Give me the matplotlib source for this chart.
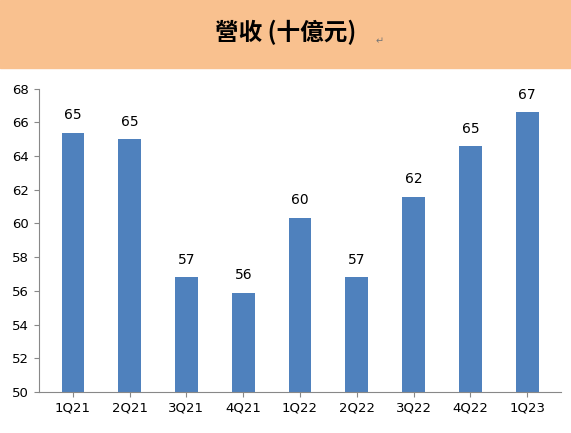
import matplotlib
matplotlib.use('Agg')
import matplotlib.pyplot as plt
from matplotlib.patches import Rectangle

plt.rcParams['font.family'] = ['Noto Sans CJK TC', 'DejaVu Sans']

quarters = ['1Q21', '2Q21', '3Q21', '4Q21', '1Q22', '2Q22', '3Q22', '4Q22', '1Q23']
revenue = [65.4, 65.0, 56.8, 55.9, 60.35, 56.8, 61.6, 64.6, 66.6]
title = '營收 (十億元)'

fig = plt.figure(figsize=(5.71, 4.33), dpi=100)
fig.patches.append(Rectangle((0, 0.843), 1, 0.157, transform=fig.transFigure,
                             color='#F9C18F', zorder=0))
fig.text(0.5, 0.925, title, ha='center', va='center', fontsize=17, fontweight='bold')
fig.text(0.658, 0.905, '↵', ha='left', va='center', fontsize=7, color='#777777',
         family=['DejaVu Sans'])

ax = fig.add_axes([0.068, 0.095, 0.915, 0.70])
bars = ax.bar(quarters, revenue, width=0.4, color='#4F81BD')
for b, v in zip(bars, revenue):
    ax.text(b.get_x() + b.get_width() / 2, v + 0.6, f'{v:.0f}', ha='center',
            va='bottom', fontsize=10, family=['DejaVu Sans'])
ax.set_ylim(50, 68)
ax.set_yticks(range(50, 69, 2))
ax.set_xlim(-0.6, len(quarters) - 0.4)
for s in ['top', 'right']:
    ax.spines[s].set_visible(False)
for s in ['left', 'bottom']:
    ax.spines[s].set_color('#888888')
ax.tick_params(labelsize=9.5, color='#888888')
for t in ax.get_xticklabels() + ax.get_yticklabels():
    t.set_family(['DejaVu Sans'])

fig.savefig('out.png', dpi=100)
